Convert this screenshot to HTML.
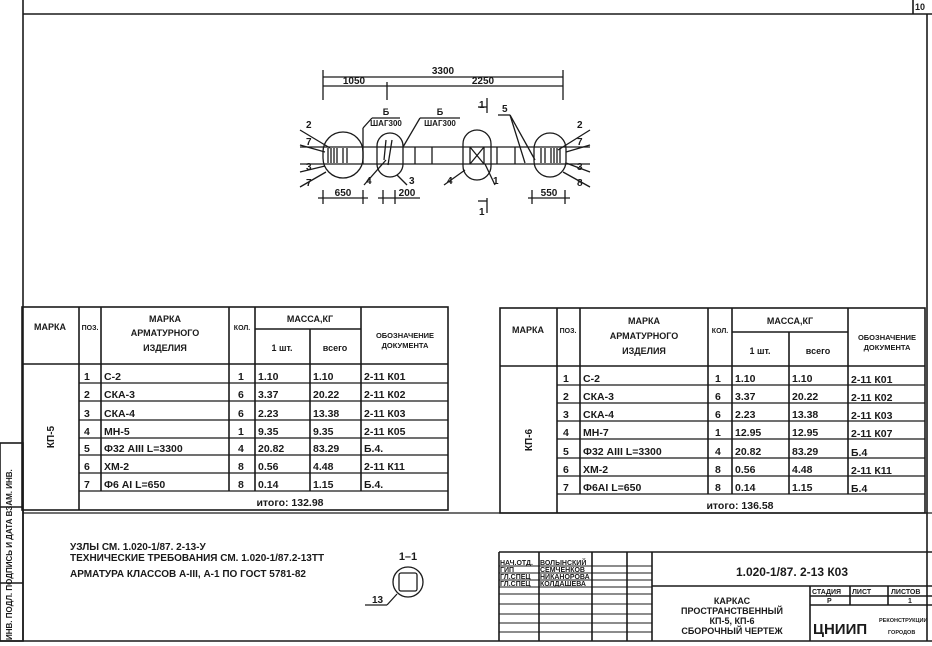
<!DOCTYPE html>
<html><head><meta charset="utf-8"><style>
html,body{margin:0;padding:0;background:#fff;}
svg{display:block;}
text{font-family:"Liberation Sans","DejaVu Sans",sans-serif;fill:#1a1a1a;font-weight:bold;}
</style></head><body>
<svg width="932" height="646" viewBox="0 0 932 646" xmlns="http://www.w3.org/2000/svg">
<g stroke="#1a1a1a" fill="none" stroke-width="1.6">
<line x1="23" y1="0" x2="23" y2="641"/>
<line x1="23" y1="14" x2="932" y2="14"/>
<line x1="927" y1="14" x2="927" y2="641"/>
<line x1="0" y1="641" x2="932" y2="641"/>
<line x1="913" y1="0" x2="913" y2="14"/>
<rect x="0" y="443" width="23" height="198"/>
<line x1="0" y1="507" x2="23" y2="507"/>
<line x1="0" y1="583" x2="23" y2="583"/>
<line x1="23" y1="513" x2="932" y2="513" stroke-width="1.2"/>
<rect x="22" y="307" width="426" height="203"/>
<line x1="22" y1="364" x2="448" y2="364"/>
<g stroke-width="1.3">
<line x1="79" y1="383" x2="448" y2="383"/><line x1="79" y1="401" x2="448" y2="401"/>
<line x1="79" y1="420" x2="448" y2="420"/><line x1="79" y1="438" x2="448" y2="438"/>
<line x1="79" y1="455" x2="448" y2="455"/><line x1="79" y1="473" x2="448" y2="473"/>
<line x1="79" y1="491" x2="448" y2="491"/>
</g>
<line x1="79" y1="307" x2="79" y2="510"/><line x1="101" y1="307" x2="101" y2="491"/>
<line x1="229" y1="307" x2="229" y2="491"/><line x1="255" y1="307" x2="255" y2="491"/>
<line x1="310" y1="329" x2="310" y2="491"/><line x1="361" y1="307" x2="361" y2="491"/>
<line x1="255" y1="329" x2="361" y2="329"/>
<rect x="500" y="308" width="425" height="205"/>
<line x1="500" y1="366" x2="925" y2="366"/>
<g stroke-width="1.3">
<line x1="557" y1="385" x2="925" y2="385"/><line x1="557" y1="403" x2="925" y2="403"/>
<line x1="557" y1="421" x2="925" y2="421"/><line x1="557" y1="439" x2="925" y2="439"/>
<line x1="557" y1="458" x2="925" y2="458"/><line x1="557" y1="476" x2="925" y2="476"/>
<line x1="557" y1="494" x2="925" y2="494"/>
</g>
<line x1="557" y1="308" x2="557" y2="513"/><line x1="580" y1="308" x2="580" y2="494"/>
<line x1="708" y1="308" x2="708" y2="494"/><line x1="732" y1="308" x2="732" y2="494"/>
<line x1="789" y1="332" x2="789" y2="494"/><line x1="848" y1="308" x2="848" y2="494"/>
<line x1="732" y1="332" x2="848" y2="332"/>
<line x1="499" y1="552" x2="932" y2="552"/>
<line x1="499" y1="552" x2="499" y2="641"/>
<line x1="539" y1="552" x2="539" y2="641"/><line x1="592" y1="552" x2="592" y2="641"/>
<line x1="627" y1="552" x2="627" y2="641"/><line x1="652" y1="552" x2="652" y2="641"/>
<g stroke-width="1">
<line x1="499" y1="566" x2="652" y2="566"/><line x1="499" y1="573" x2="652" y2="573"/>
<line x1="499" y1="580" x2="652" y2="580"/><line x1="499" y1="587" x2="652" y2="587"/>
<line x1="499" y1="594" x2="652" y2="594"/><line x1="499" y1="604" x2="652" y2="604"/>
<line x1="499" y1="614" x2="652" y2="614"/><line x1="499" y1="623" x2="652" y2="623"/>
<line x1="499" y1="632" x2="652" y2="632"/>
</g>
<line x1="652" y1="586" x2="932" y2="586"/>
<line x1="810" y1="586" x2="810" y2="641"/>
<line x1="810" y1="596" x2="932" y2="596"/><line x1="810" y1="605" x2="932" y2="605"/>
<line x1="850" y1="586" x2="850" y2="605"/><line x1="888" y1="586" x2="888" y2="605"/>
<g stroke-width="1.3">
<line x1="323" y1="77" x2="563" y2="77"/>
<line x1="323" y1="86" x2="563" y2="86"/>
<line x1="323" y1="70" x2="323" y2="100"/><line x1="387" y1="82" x2="387" y2="100"/>
<line x1="563" y1="70" x2="563" y2="100"/>
<line x1="300" y1="147" x2="590" y2="147"/>
<line x1="300" y1="164" x2="590" y2="164"/>
<rect x="323" y="132" width="40" height="46" rx="20"/>
<rect x="377" y="133" width="26" height="44" rx="13"/>
<rect x="463" y="130" width="28" height="50" rx="14"/>
<rect x="534" y="133" width="32" height="44" rx="16"/>
<line x1="363" y1="128" x2="363" y2="164"/>
<line x1="363" y1="128" x2="372" y2="118"/>
<line x1="372" y1="118" x2="400" y2="118"/>
<line x1="403" y1="147" x2="420" y2="118"/><line x1="420" y1="118" x2="460" y2="118"/>
<line x1="415" y1="147" x2="415" y2="164"/><line x1="432" y1="147" x2="432" y2="164"/>
<line x1="497" y1="147" x2="497" y2="164"/><line x1="515" y1="147" x2="515" y2="164"/>
<line x1="470" y1="147" x2="484" y2="164"/><line x1="484" y1="147" x2="470" y2="164"/>
<line x1="470" y1="147" x2="470" y2="164"/><line x1="484" y1="147" x2="484" y2="164"/>
<line x1="328" y1="148" x2="328" y2="163"/><line x1="331" y1="148" x2="331" y2="163"/><line x1="334" y1="148" x2="334" y2="163"/><line x1="337" y1="148" x2="337" y2="163"/><line x1="343" y1="148" x2="343" y2="163"/><line x1="347" y1="148" x2="347" y2="163"/>
<line x1="541" y1="148" x2="541" y2="163"/><line x1="545" y1="148" x2="545" y2="163"/><line x1="551" y1="148" x2="551" y2="163"/><line x1="554" y1="148" x2="554" y2="163"/><line x1="557" y1="148" x2="557" y2="163"/><line x1="560" y1="148" x2="560" y2="163"/>
<line x1="386" y1="140" x2="384" y2="160"/><line x1="392" y1="140" x2="388" y2="165"/>
<line x1="487" y1="98" x2="487" y2="113"/><line x1="478" y1="107" x2="487" y2="107"/>
<line x1="487" y1="198" x2="487" y2="213"/><line x1="478" y1="201" x2="487" y2="201"/>
<line x1="510" y1="115" x2="525" y2="163"/><line x1="510" y1="115" x2="535" y2="160"/><line x1="498" y1="115" x2="510" y2="115"/>
<line x1="300" y1="130" x2="330" y2="148"/><line x1="300" y1="145" x2="325" y2="152"/>
<line x1="300" y1="172" x2="325" y2="166"/><line x1="300" y1="187" x2="326" y2="172"/>
<line x1="590" y1="130" x2="558" y2="150"/><line x1="590" y1="145" x2="566" y2="152"/>
<line x1="590" y1="172" x2="566" y2="163"/><line x1="590" y1="187" x2="563" y2="172"/>
<line x1="364" y1="185" x2="386" y2="160"/><line x1="444" y1="185" x2="465" y2="170"/>
<line x1="407" y1="185" x2="397" y2="175"/><line x1="495" y1="185" x2="485" y2="164"/>
<line x1="323" y1="190" x2="323" y2="204"/><line x1="363" y1="190" x2="363" y2="204"/><line x1="318" y1="198" x2="368" y2="198"/>
<line x1="383" y1="190" x2="383" y2="204"/><line x1="395" y1="190" x2="395" y2="204"/><line x1="378" y1="198" x2="420" y2="198"/>
<line x1="532" y1="190" x2="532" y2="204"/><line x1="565" y1="190" x2="565" y2="204"/><line x1="528" y1="198" x2="570" y2="198"/>
<circle cx="408" cy="582" r="15"/>
<rect x="399" y="573" width="18" height="18" rx="2"/>
<line x1="365" y1="605" x2="387" y2="605"/><line x1="387" y1="605" x2="397" y2="594"/>
</g>
</g>
<g font-size="9">
<text x="920" y="10" text-anchor="middle">10</text>
<text transform="translate(12,640) rotate(-90)" font-size="8">ИНВ. ПОДЛ. ПОДПИСЬ И ДАТА ВЗАМ. ИНВ.</text>
</g>
<g font-size="10">
<text x="443" y="74" text-anchor="middle">3300</text>
<text x="354" y="84" text-anchor="middle">1050</text>
<text x="483" y="84" text-anchor="middle">2250</text>
<text x="386" y="115" text-anchor="middle" font-size="9">Б</text>
<text x="386" y="126" text-anchor="middle" font-size="8">ШАГ300</text>
<text x="440" y="115" text-anchor="middle" font-size="9">Б</text>
<text x="440" y="126" text-anchor="middle" font-size="8">ШАГ300</text>
<text x="479" y="108">1</text><text x="479" y="215">1</text>
<text x="502" y="112">5</text>
<text x="306" y="128">2</text><text x="306" y="145">7</text><text x="306" y="170">3</text><text x="306" y="186">7</text>
<text x="577" y="128">2</text><text x="577" y="145">7</text><text x="577" y="170">3</text><text x="577" y="186">8</text>
<text x="366" y="184">4</text><text x="409" y="184">3</text><text x="447" y="184">4</text><text x="493" y="184">1</text>
<text x="343" y="196" text-anchor="middle">650</text>
<text x="407" y="196" text-anchor="middle">200</text>
<text x="549" y="196" text-anchor="middle">550</text>
</g>
<g font-size="9">
<text x="50" y="330" text-anchor="middle">МАРКА</text>
<text x="90" y="330" text-anchor="middle" font-size="7">ПОЗ.</text>
<text x="165" y="322" text-anchor="middle">МАРКА</text>
<text x="165" y="336" text-anchor="middle">АРМАТУРНОГО</text>
<text x="165" y="351" text-anchor="middle">ИЗДЕЛИЯ</text>
<text x="242" y="330" text-anchor="middle" font-size="7">КОЛ.</text>
<text x="310" y="322" text-anchor="middle">МАССА,КГ</text>
<text x="282" y="351" text-anchor="middle">1 шт.</text>
<text x="335" y="351" text-anchor="middle">всего</text>
<text x="405" y="338" text-anchor="middle" font-size="7.5">ОБОЗНАЧЕНИЕ</text>
<text x="405" y="348" text-anchor="middle" font-size="7.5">ДОКУМЕНТА</text>
<text transform="translate(54,437) rotate(-90)" text-anchor="middle" font-size="10">КП-5</text>
</g>
<g font-size="10.5">
<text x="84" y="380">1</text><text x="104" y="380">С-2</text><text x="238" y="380">1</text><text x="258" y="380">1.10</text><text x="313" y="380">1.10</text><text x="364" y="380">2-11 К01</text>
<text x="84" y="398">2</text><text x="104" y="398">СКА-3</text><text x="238" y="398">6</text><text x="258" y="398">3.37</text><text x="313" y="398">20.22</text><text x="364" y="398">2-11 К02</text>
<text x="84" y="417">3</text><text x="104" y="417">СКА-4</text><text x="238" y="417">6</text><text x="258" y="417">2.23</text><text x="313" y="417">13.38</text><text x="364" y="417">2-11 К03</text>
<text x="84" y="435">4</text><text x="104" y="435">МН-5</text><text x="238" y="435">1</text><text x="258" y="435">9.35</text><text x="313" y="435">9.35</text><text x="364" y="435">2-11 К05</text>
<text x="84" y="452">5</text><text x="104" y="452">Ф32 АIII  L=3300</text><text x="238" y="452">4</text><text x="258" y="452">20.82</text><text x="313" y="452">83.29</text><text x="364" y="452">Б.4.</text>
<text x="84" y="470">6</text><text x="104" y="470">ХМ-2</text><text x="238" y="470">8</text><text x="258" y="470">0.56</text><text x="313" y="470">4.48</text><text x="364" y="470">2-11 К11</text>
<text x="84" y="488">7</text><text x="104" y="488">Ф6 АI     L=650</text><text x="238" y="488">8</text><text x="258" y="488">0.14</text><text x="313" y="488">1.15</text><text x="364" y="488">Б.4.</text>
<text x="290" y="506" text-anchor="middle">итого: 132.98</text>
</g>
<g font-size="9">
<text x="528" y="333" text-anchor="middle">МАРКА</text>
<text x="568" y="333" text-anchor="middle" font-size="7">ПОЗ.</text>
<text x="644" y="324" text-anchor="middle">МАРКА</text>
<text x="644" y="339" text-anchor="middle">АРМАТУРНОГО</text>
<text x="644" y="354" text-anchor="middle">ИЗДЕЛИЯ</text>
<text x="720" y="333" text-anchor="middle" font-size="7">КОЛ.</text>
<text x="790" y="324" text-anchor="middle">МАССА,КГ</text>
<text x="760" y="354" text-anchor="middle">1 шт.</text>
<text x="818" y="354" text-anchor="middle">всего</text>
<text x="887" y="340" text-anchor="middle" font-size="7.5">ОБОЗНАЧЕНИЕ</text>
<text x="887" y="350" text-anchor="middle" font-size="7.5">ДОКУМЕНТА</text>
<text transform="translate(532,440) rotate(-90)" text-anchor="middle" font-size="10">КП-6</text>
</g>
<g font-size="10.5">
<text x="563" y="382">1</text><text x="583" y="382">С-2</text><text x="715" y="382">1</text><text x="735" y="382">1.10</text><text x="792" y="382">1.10</text><text x="851" y="383">2-11 К01</text>
<text x="563" y="400">2</text><text x="583" y="400">СКА-3</text><text x="715" y="400">6</text><text x="735" y="400">3.37</text><text x="792" y="400">20.22</text><text x="851" y="401">2-11 К02</text>
<text x="563" y="418">3</text><text x="583" y="418">СКА-4</text><text x="715" y="418">6</text><text x="735" y="418">2.23</text><text x="792" y="418">13.38</text><text x="851" y="419">2-11 К03</text>
<text x="563" y="436">4</text><text x="583" y="436">МН-7</text><text x="715" y="436">1</text><text x="735" y="436">12.95</text><text x="792" y="436">12.95</text><text x="851" y="437">2-11 К07</text>
<text x="563" y="455">5</text><text x="583" y="455">Ф32 АIII   L=3300</text><text x="715" y="455">4</text><text x="735" y="455">20.82</text><text x="792" y="455">83.29</text><text x="851" y="456">Б.4</text>
<text x="563" y="473">6</text><text x="583" y="473">ХМ-2</text><text x="715" y="473">8</text><text x="735" y="473">0.56</text><text x="792" y="473">4.48</text><text x="851" y="474">2-11 К11</text>
<text x="563" y="491">7</text><text x="583" y="491">Ф6АI     L=650</text><text x="715" y="491">8</text><text x="735" y="491">0.14</text><text x="792" y="491">1.15</text><text x="851" y="492">Б.4</text>
<text x="740" y="509" text-anchor="middle">итого: 136.58</text>
</g>
<g font-size="10">
<text x="70" y="550">УЗЛЫ СМ. 1.020-1/87. 2-13-У</text>
<text x="70" y="561">ТЕХНИЧЕСКИЕ ТРЕБОВАНИЯ СМ. 1.020-1/87.2-13ТТ</text>
<text x="70" y="577">АРМАТУРА КЛАССОВ А-III, А-1 ПО ГОСТ 5781-82</text>
<text x="408" y="560" text-anchor="middle" font-size="11">1–1</text>
<text x="372" y="603">13</text>
</g>
<g font-size="7">
<text x="500" y="565">НАЧ.ОТД.</text><text x="540" y="565">ВОЛЫНСКИЙ</text>
<text x="500" y="572">ГИП</text><text x="540" y="572">СЕМЧЕНКОВ</text>
<text x="500" y="579">ГЛ.СПЕЦ</text><text x="540" y="579">НИКАНОРОВА</text>
<text x="500" y="586">ГЛ.СПЕЦ</text><text x="540" y="586">КОЛДАШЕВА</text>
<text x="812" y="594">СТАДИЯ</text><text x="852" y="594">ЛИСТ</text><text x="891" y="594">ЛИСТОВ</text>
<text x="827" y="603">Р</text><text x="908" y="603">1</text>
<text x="879" y="622" font-size="5.5">РЕКОНСТРУКЦИИ</text>
<text x="888" y="634" font-size="5.5">ГОРОДОВ</text>
</g>
<text x="792" y="576" text-anchor="middle" font-size="12">1.020-1/87. 2-13 К03</text>
<g font-size="9" text-anchor="middle">
<text x="732" y="604">КАРКАС</text>
<text x="732" y="614">ПРОСТРАНСТВЕННЫЙ</text>
<text x="732" y="624">КП-5, КП-6</text>
<text x="732" y="634">СБОРОЧНЫЙ ЧЕРТЕЖ</text>
</g>
<text x="813" y="634" font-size="15" font-weight="normal">ЦНИИП</text>
</svg>
</body></html>
